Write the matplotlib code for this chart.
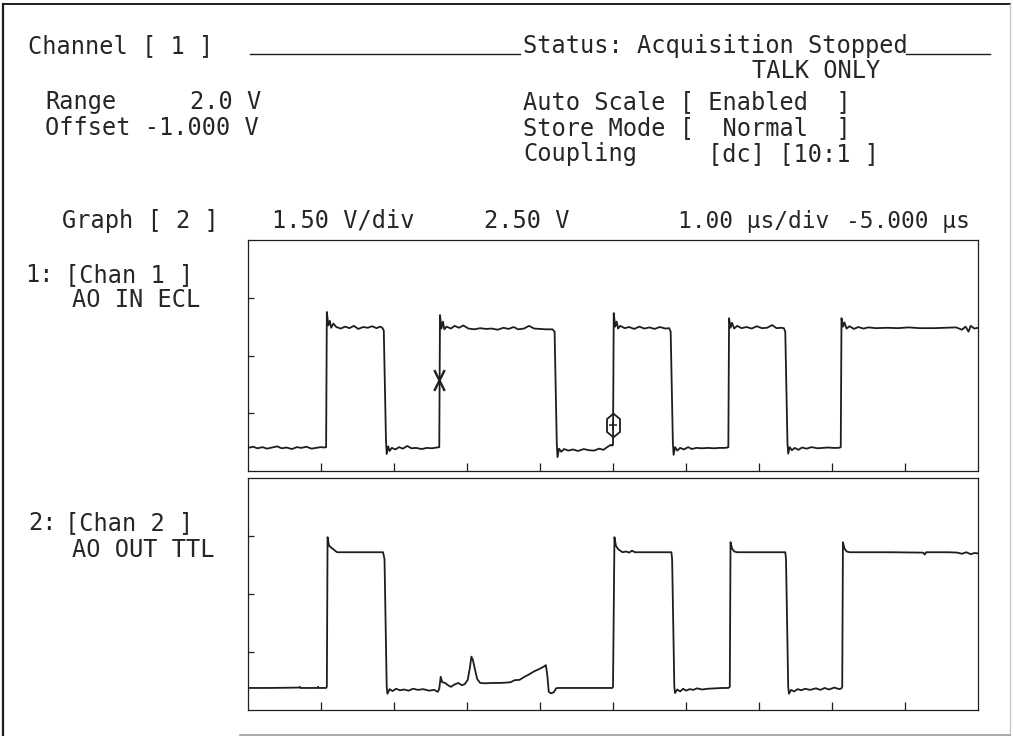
import matplotlib
matplotlib.use("Agg")
import matplotlib.pyplot as plt
from matplotlib.path import Path
from matplotlib.lines import Line2D

# time axis in us, voltage in V (1.50 V/div, 2.50 V at screen centre)
t_min, t_max = -5.0, 5.0
v_min, v_max = -0.5, 5.5
x_ticks = [-4, -3, -2, -1, 0, 1, 2, 3, 4]
y_ticks = [1.0, 2.5, 4.0]

# channel 1 - AO IN ECL
t1 = [-5.00, -4.93, -4.87, -4.80, -4.74, -4.67, -4.60, -4.54, -4.47, -4.40, -4.33, -4.27, -4.20, -4.13, -4.07, -4.00, -3.95,
      -3.93, -3.92, -3.90, -3.88, -3.86, -3.83, -3.79, -3.73, -3.67, -3.61, -3.55, -3.49, -3.42, -3.36, -3.30, -3.24, -3.19, -3.16,
      -3.14, -3.11, -3.10, -3.08, -3.06, -3.03, -2.98, -2.93, -2.88, -2.82, -2.76, -2.70, -2.62, -2.55, -2.48, -2.41,
      -2.38, -2.37, -2.35, -2.33, -2.31, -2.28, -2.22, -2.17, -2.11, -2.05, -1.98, -1.90, -1.82, -1.74, -1.66, -1.58, -1.50,
      -1.43, -1.36, -1.30, -1.22, -1.15, -1.08, -1.00, -0.92, -0.83,
      -0.80, -0.77, -0.76, -0.74, -0.71, -0.67, -0.61, -0.55, -0.48, -0.40, -0.33, -0.26, -0.19, -0.13, -0.08, -0.03, -0.01,
      0.00, 0.01, 0.03, 0.05, 0.07, 0.10, 0.16, 0.22, 0.29, 0.36, 0.43, 0.50, 0.57, 0.64, 0.72, 0.77,
      0.79, 0.82, 0.83, 0.85, 0.88, 0.92, 0.97, 1.03, 1.08, 1.14, 1.22, 1.30, 1.38, 1.46, 1.53, 1.57,
      1.58, 1.59, 1.61, 1.63, 1.66, 1.70, 1.76, 1.83, 1.90, 1.97, 2.04, 2.11, 2.18, 2.24, 2.30, 2.34,
      2.36, 2.39, 2.40, 2.42, 2.45, 2.49, 2.54, 2.59, 2.65, 2.72, 2.80, 2.88, 2.95, 3.02, 3.08, 3.11,
      3.12, 3.13, 3.15, 3.17, 3.20, 3.24, 3.30, 3.36, 3.43, 3.50, 3.60, 3.75, 3.90, 4.05, 4.20, 4.40, 4.55, 4.70,
      4.78, 4.83, 4.87, 4.90, 4.95, 5.00]
v1 = [0.10, 0.13, 0.09, 0.12, 0.08, 0.11, 0.14, 0.09, 0.11, 0.07, 0.12, 0.10, 0.13, 0.08, 0.10, 0.12, 0.11,
      0.12, 3.63, 3.28, 3.40, 3.22, 3.33, 3.24, 3.20, 3.25, 3.21, 3.27, 3.19, 3.24, 3.22, 3.26, 3.21, 3.25, 3.22,
      3.15, 0.30, -0.06, 0.14, 0.02, 0.10, 0.06, 0.12, 0.08, 0.15, 0.09, 0.10, 0.07, 0.10, 0.09, 0.11,
      0.12, 3.55, 3.20, 3.38, 3.18, 3.25, 3.20, 3.27, 3.22, 3.28, 3.20, 3.18, 3.21, 3.19, 3.20, 3.17, 3.22,
      3.19, 3.24, 3.18, 3.20, 3.27, 3.20, 3.19, 3.18, 3.18,
      3.12, 0.20, -0.14, 0.08, 0.00, 0.07, 0.03, 0.06, 0.02, 0.07, 0.04, 0.03, 0.08, 0.05, 0.12, 0.18, 0.16,
      0.18, 3.60, 3.25, 3.38, 3.20, 3.27, 3.21, 3.24, 3.19, 3.25, 3.20, 3.23, 3.19, 3.24, 3.20, 3.21,
      3.12, 0.25, -0.08, 0.12, 0.03, 0.10, 0.06, 0.12, 0.07, 0.10, 0.09, 0.10, 0.09, 0.10, 0.10, 0.11,
      0.12, 3.47, 3.22, 3.35, 3.20, 3.27, 3.21, 3.24, 3.20, 3.26, 3.21, 3.22, 3.29, 3.21, 3.22, 3.21,
      3.12, 0.22, -0.05, 0.12, 0.04, 0.10, 0.05, 0.11, 0.08, 0.12, 0.09, 0.10, 0.11, 0.10, 0.10, 0.11,
      0.12, 3.47, 3.25, 3.36, 3.20, 3.26, 3.19, 3.24, 3.20, 3.23, 3.21, 3.22, 3.21, 3.23, 3.21, 3.21, 3.22, 3.23,
      3.17, 3.25, 3.12, 3.27, 3.20, 3.22]

# channel 2 - AO OUT TTL
t2 = [-5.00, -4.70, -4.30, -4.29, -4.28, -4.05, -4.04, -4.03, -3.93,
      -3.92, -3.91, -3.89, -3.86, -3.82, -3.78, -3.50, -3.15,
      -3.13, -3.10, -3.09, -3.06, -3.02, -2.97, -2.92, -2.86, -2.80, -2.74, -2.67, -2.60, -2.52, -2.45, -2.40,
      -2.38, -2.36, -2.34, -2.30, -2.26, -2.22, -2.17, -2.12, -2.07, -2.03, -1.99, -1.96, -1.94, -1.92, -1.89,
      -1.86, -1.82, -1.75, -1.65, -1.55, -1.45, -1.40, -1.35, -1.28, -1.22, -1.15, -1.08, -1.01, -0.95, -0.92,
      -0.90, -0.88, -0.85, -0.81, -0.78, -0.75, -0.40, -0.01,
      0.00, 0.02, 0.04, 0.07, 0.10, 0.13, 0.18, 0.22, 0.26, 0.30, 0.55, 0.80,
      0.81, 0.84, 0.85, 0.88, 0.92, 0.96, 1.00, 1.05, 1.10, 1.15, 1.22, 1.30, 1.40, 1.50, 1.58,
      1.60, 1.61, 1.63, 1.66, 1.70, 2.00, 2.36,
      2.37, 2.40, 2.41, 2.44, 2.48, 2.53, 2.58, 2.63, 2.70, 2.78, 2.84, 2.90, 2.96, 3.03, 3.10, 3.13,
      3.14, 3.15, 3.17, 3.20, 3.24, 3.80, 4.25, 4.27, 4.29, 4.60, 4.72, 4.78, 4.84, 4.90, 4.95, 5.00]
v2 = [0.07, 0.07, 0.08, 0.10, 0.07, 0.07, 0.10, 0.07, 0.07,
      0.10, 3.97, 3.75, 3.70, 3.64, 3.58, 3.58, 3.58,
      3.40, 0.10, -0.08, 0.04, -0.01, 0.05, 0.01, 0.03, 0.00, 0.05, 0.02, 0.04, 0.00, 0.02, -0.03,
      0.05, 0.36, 0.22, 0.20, 0.14, 0.10, 0.16, 0.20, 0.14, 0.17, 0.28, 0.60, 0.88, 0.80, 0.54,
      0.30, 0.20, 0.19, 0.20, 0.20, 0.21, 0.22, 0.27, 0.28, 0.35, 0.42, 0.50, 0.56, 0.62, 0.66,
      0.40, -0.03, -0.07, -0.04, 0.06, 0.07, 0.07, 0.07,
      0.10, 3.97, 3.75, 3.66, 3.62, 3.58, 3.60, 3.57, 3.62, 3.58, 3.58, 3.58,
      3.40, 0.10, -0.06, 0.03, -0.02, 0.05, 0.00, 0.04, 0.02, 0.06, 0.03, 0.05, 0.06, 0.07, 0.07,
      0.10, 3.84, 3.68, 3.60, 3.58, 3.58, 3.58,
      3.40, 0.10, -0.08, 0.02, -0.02, 0.04, 0.01, 0.05, 0.02, 0.06, 0.02, 0.07, 0.03, 0.08, 0.04, 0.06,
      0.10, 3.84, 3.68, 3.60, 3.58, 3.58, 3.57, 3.52, 3.58, 3.58, 3.57, 3.54, 3.58, 3.53, 3.56, 3.55]

# cursor markers on channel 1
x_cursor = (-2.38, 1.87)
o_cursor = (0.0, 0.70)

INK = "#1e1e1e"
TXT = "#262626"
FONT = "DejaVu Sans Mono"
FS = 17
W, H = 1013, 736


def fx(px):
    return px / W


def fy(py):
    return 1 - py / H


def label(fig, px, py, s, ha="left", size=FS):
    fig.text(fx(px), fy(py), s, ha=ha, va="baseline", family=FONT,
             fontsize=size, color=TXT)


def hline(fig, x0, x1, py, color=INK, lw=1.0):
    fig.add_artist(Line2D([fx(x0), fx(x1)], [fy(py), fy(py)], color=color, lw=lw))


def vline(fig, px, y0, y1, color=INK, lw=1.0):
    fig.add_artist(Line2D([fx(px), fx(px)], [fy(y0), fy(y1)], color=color, lw=lw))


def style_axes(ax):
    ax.set_xlim(t_min, t_max)
    ax.set_ylim(v_min, v_max)
    ax.set_xticks(x_ticks)
    ax.set_yticks(y_ticks)
    ax.set_xticklabels([])
    ax.set_yticklabels([])
    ax.tick_params(axis="x", direction="in", length=6, width=0.9, color=INK,
                   top=False, bottom=True)
    ax.tick_params(axis="y", direction="in", length=4, width=0.9, color=INK,
                   left=True, right=False)
    for sp in ax.spines.values():
        sp.set_color(INK)
        sp.set_linewidth(0.9)


fig = plt.figure(figsize=(W / 100, H / 100), dpi=100)

ax1 = fig.add_axes([fx(248), fy(471), fx(978) - fx(248), fy(240) - fy(471)])
ax2 = fig.add_axes([fx(248), fy(710), fx(978) - fx(248), fy(478) - fy(710)])
for ax in (ax1, ax2):
    style_axes(ax)

ax1.plot(t1, v1, color=INK, lw=1.3)
ax2.plot(t2, v2, color=INK, lw=1.3)

# cursor marks: tall X and hexagon with a plus inside
x_mark = Path([(-0.5, -1), (0.5, 1), (-0.5, 1), (0.5, -1)],
              [Path.MOVETO, Path.LINETO, Path.MOVETO, Path.LINETO])
hex_mark = Path([(0, 1), (0.55, 0.55), (0.55, -0.55), (0, -1), (-0.55, -0.55),
                 (-0.55, 0.55), (0, 1)])
ax1.plot([x_cursor[0]], [x_cursor[1]], marker=x_mark, ms=15, mew=1.7,
         color=INK, ls="none")
ax1.plot([o_cursor[0]], [o_cursor[1]], marker=hex_mark, ms=17, mew=1.3,
         mfc="none", mec=INK, ls="none")
ax1.plot([o_cursor[0]], [o_cursor[1]], marker="+", ms=6, mew=1.1,
         color=INK, ls="none")

# header text
label(fig, 28, 53, "Channel [ 1 ]")
hline(fig, 250, 520, 54)
label(fig, 523, 53, "Status: Acquisition Stopped")
hline(fig, 906, 990, 54)
label(fig, 752, 78, "TALK ONLY")

label(fig, 45, 109, "Range")
label(fig, 190, 109, "2.0 V")
label(fig, 45, 135, "Offset -1.000 V")
label(fig, 523, 109, "Auto Scale [ Enabled  ]")
label(fig, 523, 135, "Store Mode [  Normal  ]")
label(fig, 523, 161, "Coupling")
label(fig, 708, 161, "[dc] [10:1 ]")

label(fig, 62, 228, "Graph [ 2 ]")
label(fig, 272, 228, "1.50 V/div")
label(fig, 484, 228, "2.50 V")
label(fig, 678, 228, "1.00 \u00b5s/div", size=16.5)
label(fig, 970, 228, "-5.000 \u00b5s", ha="right", size=16.5)

label(fig, 25, 282, "1:")
label(fig, 65, 282, "[Chan 1 ]")
label(fig, 72, 307, "AO IN ECL")
label(fig, 28, 530, "2:")
label(fig, 65, 530, "[Chan 2 ]")
label(fig, 72, 557, "AO OUT TTL")

# page border of the printout
vline(fig, 3, 4, 736, lw=1.6)
hline(fig, 3, 1010, 4, lw=1.4)
vline(fig, 1010, 4, 736, color="#c8c8c8", lw=1.0)
hline(fig, 240, 1010, 735, color="#9a9a9a", lw=1.2)

fig.savefig("out.png", dpi=100)
